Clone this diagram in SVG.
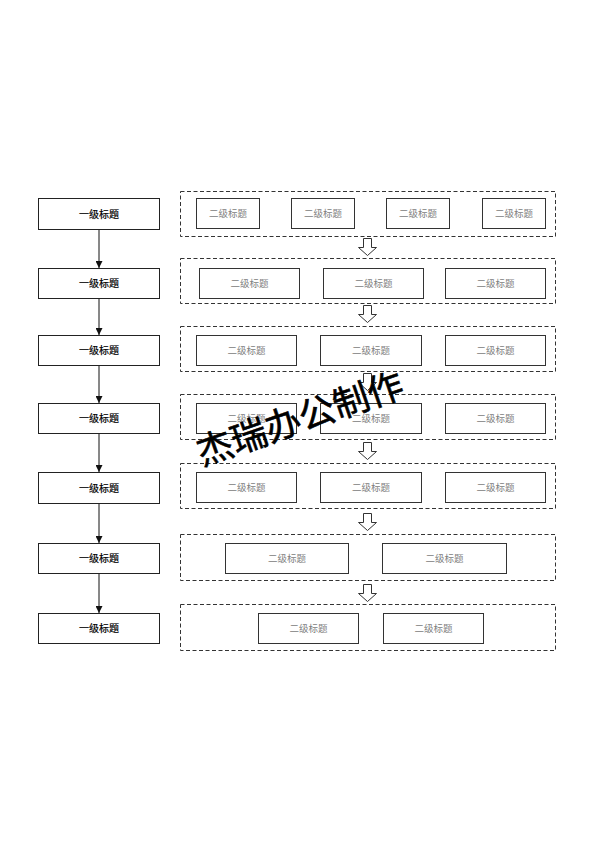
<svg xmlns="http://www.w3.org/2000/svg" width="594" height="841" viewBox="0 0 594 841">
<defs>
<style>
.l1{fill:#fff;stroke:#222;stroke-width:1}
.l2{fill:#fff;stroke:#333;stroke-width:1}
.grp{fill:none;stroke:#333;stroke-width:1;stroke-dasharray:4,2.5}
.t1{font-family:"Noto Sans CJK SC","Noto Sans",sans-serif;font-size:10px;fill:#000;text-anchor:middle;dominant-baseline:central;stroke:#000;stroke-width:0.2}
.t2{font-family:"Noto Sans CJK SC","Noto Sans",sans-serif;font-size:9.5px;fill:#808080;text-anchor:middle;dominant-baseline:central}
.ln{stroke:#111;stroke-width:1;fill:none}
.ha{fill:#fff;stroke:#333;stroke-width:1}
.wm{font-family:"Noto Sans CJK SC","Noto Sans",sans-serif;font-size:36px;fill:#000;stroke:#000;stroke-width:0.6}
</style>
<marker id="ah" viewBox="0 0 8 8" refX="8" refY="4" markerWidth="7" markerHeight="7" markerUnits="userSpaceOnUse" orient="auto"><path d="M0,0 L8,4 L0,8 z" fill="#111"/></marker>
<path id="harrow" d="M-4,0 H4 V9 H9 L0,17 L-9,9 H-4 Z"/>
</defs>

<g id="groups">
<rect class="grp" x="180.5" y="191.5" width="375" height="45"/>
<rect class="grp" x="180.5" y="258.5" width="375" height="45"/>
<rect class="grp" x="180.5" y="326.5" width="375" height="45"/>
<rect class="grp" x="180.5" y="394.5" width="375" height="45"/>
<rect class="grp" x="180.5" y="463.5" width="375" height="45"/>
<rect class="grp" x="180.5" y="534.5" width="375" height="46"/>
<rect class="grp" x="180.5" y="604.5" width="375" height="46"/>
</g>

<g id="connectors">
<line class="ln" x1="99" y1="229" x2="99" y2="268" marker-end="url(#ah)"/>
<line class="ln" x1="99" y1="299" x2="99" y2="335" marker-end="url(#ah)"/>
<line class="ln" x1="99" y1="366" x2="99" y2="403" marker-end="url(#ah)"/>
<line class="ln" x1="99" y1="433" x2="99" y2="472" marker-end="url(#ah)"/>
<line class="ln" x1="99" y1="503" x2="99" y2="543" marker-end="url(#ah)"/>
<line class="ln" x1="99" y1="574" x2="99" y2="613" marker-end="url(#ah)"/>
<use href="#harrow" class="ha" x="367.5" y="238.5"/>
<use href="#harrow" class="ha" x="367.5" y="305.5"/>
<use href="#harrow" class="ha" x="367.5" y="373.5"/>
<use href="#harrow" class="ha" x="367.5" y="442.5"/>
<use href="#harrow" class="ha" x="367.5" y="513.5"/>
<use href="#harrow" class="ha" x="367.5" y="584.5"/>
</g>

<g id="l1-1"><rect class="l1" x="38.5" y="198.5" width="121" height="31"/><text class="t1" x="99" y="213">一级标题</text></g>
<g id="l1-2"><rect class="l1" x="38.5" y="268.5" width="121" height="30"/><text class="t1" x="99" y="282.5">一级标题</text></g>
<g id="l1-3"><rect class="l1" x="38.5" y="335.5" width="121" height="30"/><text class="t1" x="99" y="349.5">一级标题</text></g>
<g id="l1-4"><rect class="l1" x="38.5" y="403.5" width="121" height="30"/><text class="t1" x="99" y="417.5">一级标题</text></g>
<g id="l1-5"><rect class="l1" x="38.5" y="472.5" width="121" height="31"/><text class="t1" x="99" y="487">一级标题</text></g>
<g id="l1-6"><rect class="l1" x="38.5" y="543.5" width="121" height="30"/><text class="t1" x="99" y="557.5">一级标题</text></g>
<g id="l1-7"><rect class="l1" x="38.5" y="613.5" width="121" height="30"/><text class="t1" x="99" y="627.5">一级标题</text></g>

<g id="r1-1"><rect class="l2" x="196.5" y="198.5" width="63" height="30"/><text class="t2" x="228" y="212.5">二级标题</text></g>
<g id="r1-2"><rect class="l2" x="291.5" y="198.5" width="63" height="30"/><text class="t2" x="323" y="212.5">二级标题</text></g>
<g id="r1-3"><rect class="l2" x="386.5" y="198.5" width="63" height="30"/><text class="t2" x="418" y="212.5">二级标题</text></g>
<g id="r1-4"><rect class="l2" x="482.5" y="198.5" width="63" height="30"/><text class="t2" x="514" y="212.5">二级标题</text></g>

<g id="r2-1"><rect class="l2" x="199.5" y="268.5" width="100" height="30"/><text class="t2" x="249.5" y="282.5">二级标题</text></g>
<g id="r2-2"><rect class="l2" x="323.5" y="268.5" width="100" height="30"/><text class="t2" x="373.5" y="282.5">二级标题</text></g>
<g id="r2-3"><rect class="l2" x="445.5" y="268.5" width="100" height="30"/><text class="t2" x="495.5" y="282.5">二级标题</text></g>

<g id="r3-1"><rect class="l2" x="196.5" y="335.5" width="100" height="30"/><text class="t2" x="246.5" y="349.5">二级标题</text></g>
<g id="r3-2"><rect class="l2" x="320.5" y="335.5" width="101" height="30"/><text class="t2" x="371" y="349.5">二级标题</text></g>
<g id="r3-3"><rect class="l2" x="445.5" y="335.5" width="100" height="30"/><text class="t2" x="495.5" y="349.5">二级标题</text></g>

<g id="r4-1"><rect class="l2" x="196.5" y="403.5" width="100" height="30"/><text class="t2" x="246.5" y="417.5">二级标题</text></g>
<g id="r4-2"><rect class="l2" x="320.5" y="403.5" width="101" height="30"/><text class="t2" x="371" y="417.5">二级标题</text></g>
<g id="r4-3"><rect class="l2" x="445.5" y="403.5" width="100" height="30"/><text class="t2" x="495.5" y="417.5">二级标题</text></g>

<g id="r5-1"><rect class="l2" x="196.5" y="472.5" width="100" height="30"/><text class="t2" x="246.5" y="486.5">二级标题</text></g>
<g id="r5-2"><rect class="l2" x="320.5" y="472.5" width="101" height="30"/><text class="t2" x="371" y="486.5">二级标题</text></g>
<g id="r5-3"><rect class="l2" x="445.5" y="472.5" width="100" height="30"/><text class="t2" x="495.5" y="486.5">二级标题</text></g>

<g id="r6-1"><rect class="l2" x="225.5" y="543.5" width="123" height="30"/><text class="t2" x="287" y="557.5">二级标题</text></g>
<g id="r6-2"><rect class="l2" x="382.5" y="543.5" width="124" height="30"/><text class="t2" x="444.5" y="557.5">二级标题</text></g>

<g id="r7-1"><rect class="l2" x="258.5" y="613.5" width="100" height="30"/><text class="t2" x="308.5" y="627.5">二级标题</text></g>
<g id="r7-2"><rect class="l2" x="383.5" y="613.5" width="100" height="30"/><text class="t2" x="433.5" y="627.5">二级标题</text></g>

<g id="watermark"><text class="wm" transform="translate(202,466) rotate(-19)">杰瑞办公制作</text></g>
</svg>
